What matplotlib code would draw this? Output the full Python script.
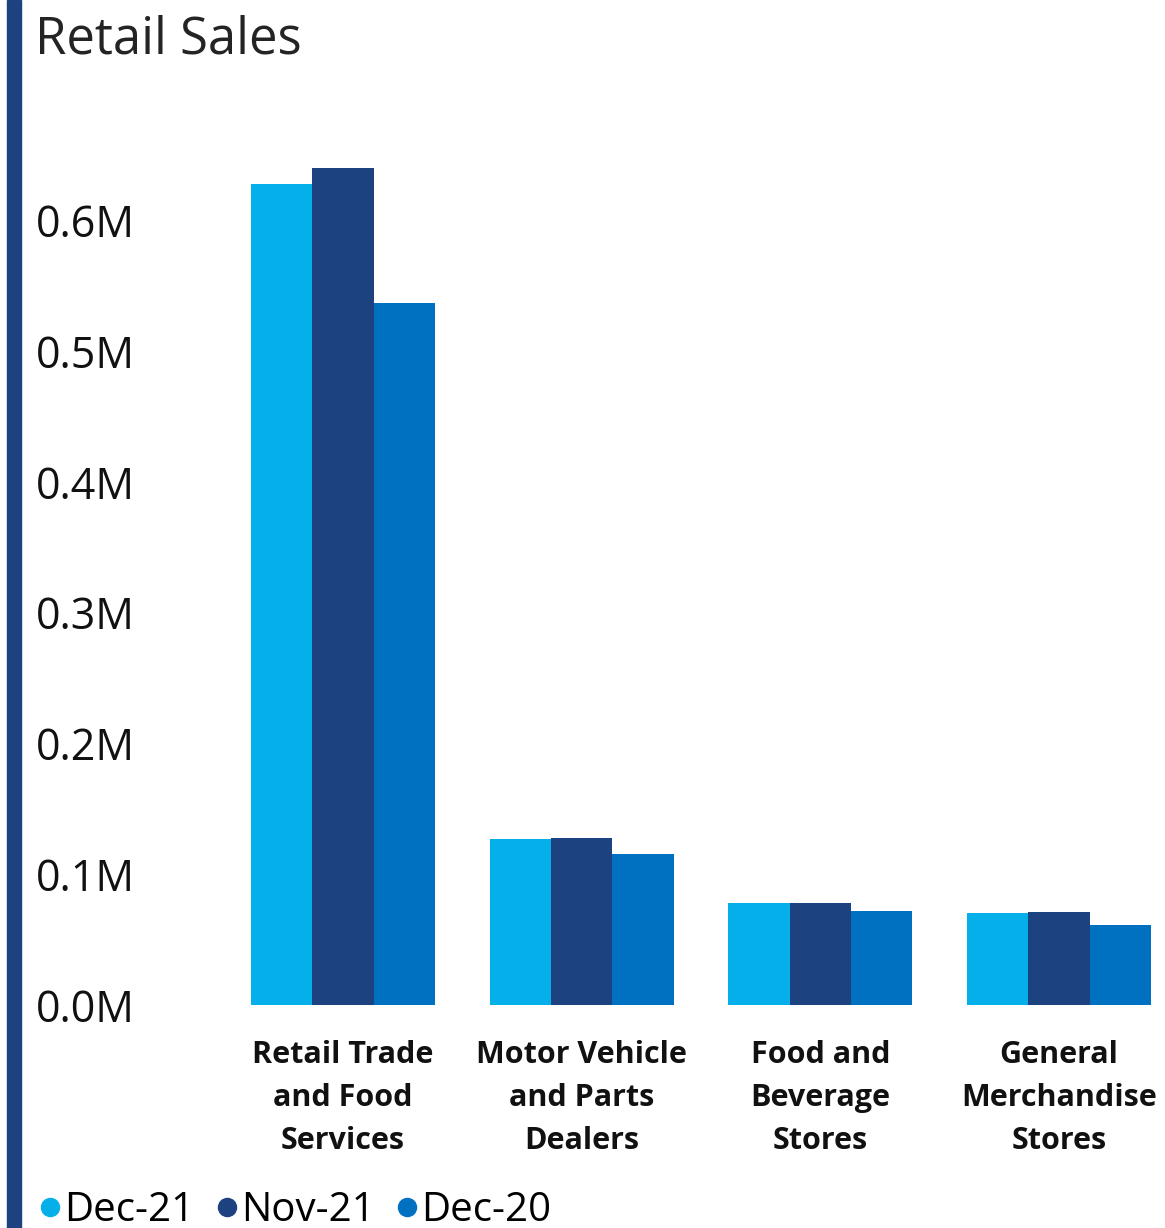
import matplotlib
matplotlib.use("Agg")
import matplotlib.pyplot as plt
import numpy as np
from matplotlib.lines import Line2D
from matplotlib.patches import Rectangle
from matplotlib.ticker import FuncFormatter

plt.rcParams['font.family'] = ['Open Sans', 'DejaVu Sans']

categories = ["Retail Trade\nand Food\nServices", "Motor Vehicle\nand Parts\nDealers",
              "Food and\nBeverage\nStores", "General\nMerchandise\nStores"]
series_names = ["Dec-21", "Nov-21", "Dec-20"]
dec21 = [627800, 126900, 78000, 70300]
nov21 = [640000, 127700, 78000, 71100]
dec20 = [536700, 115400, 71900, 61200]
yticks = [0, 100000, 200000, 300000, 400000, 500000, 600000]

colors = ["#05B0EA", "#1D4280", "#0070C0"]

W, H = 1165, 1228
fig = plt.figure(figsize=(W / 100, H / 100), dpi=100)

# dark accent strip down the left edge
fig.patches.append(Rectangle((7 / W, 0), 14 / W, 1, transform=fig.transFigure,
                             color="#1D4280", zorder=0))

ax = fig.add_axes([200 / W, 223 / H, 965 / W, 855 / H])
x = np.arange(len(categories))
bw = 0.257
for i, (vals, c) in enumerate(zip([dec21, nov21, dec20], colors)):
    ax.bar(x + (i - 1) * bw, vals, width=bw, color=c, linewidth=0)

ax.set_xlim(-0.599, 3.444)
ax.set_ylim(0, 653700)
ax.set_yticks(yticks)
ax.yaxis.set_major_formatter(FuncFormatter(lambda v, p: f"{v / 1e6:.1f}M"))
ax.set_xticks(x)
ax.set_xticklabels(categories, fontsize=22, fontweight="bold", linespacing=1.57)
ax.tick_params(axis="y", length=0, pad=47, labelsize=31, labelcolor="#111111")
ax.tick_params(axis="x", length=0, pad=25, labelcolor="#111111")
for s in ax.spines.values():
    s.set_visible(False)

fig.text(35 / W, 1 - 54 / H, "Retail Sales", fontsize=36.5, color="#252423", va="baseline")

handles = [Line2D([], [], marker="o", linestyle="", markersize=13, color=c) for c in colors]
fig.legend(handles, series_names, loc="lower left", bbox_to_anchor=(10 / W, -31 / H),
           ncol=3, frameon=False, fontsize=29, handlelength=0.6, handletextpad=0.05,
           columnspacing=0.5, borderpad=0.2)

fig.savefig("out.png", dpi=100)
